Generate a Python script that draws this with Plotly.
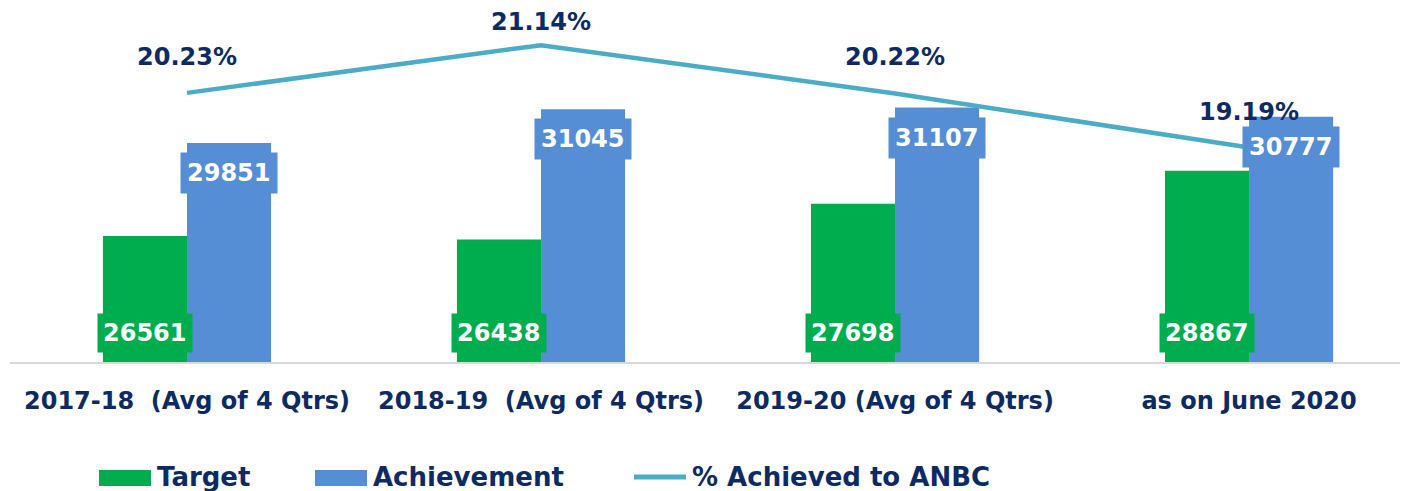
import plotly.graph_objects as go

categories = ["2017-18\u00a0\u00a0(Avg of 4 Qtrs)", "2018-19\u00a0\u00a0(Avg of 4 Qtrs)",
              "2019-20 (Avg of 4 Qtrs)", "as on June 2020"]
target = [26561, 26438, 27698, 28867]
achievement = [29851, 31045, 31107, 30777]
pct_achieved = [20.23, 21.14, 20.22, 19.19]
series_names = ["Target", "Achievement", "% Achieved to ANBC"]

NAVY = "#0E2A63"
GREEN = "#00AD4E"
BLUE = "#558ED5"
TEAL = "#4BACC6"
FONT = "DejaVu Sans"

# plot area geometry (page has an 8px body margin)
L, T, W, H = 2, 2, 1398, 352


def px_x(p):
    return (p - 8 - L) / W


def px_y(p):
    return (8 + T + H - p) / H


x = list(range(len(categories)))

fig = go.Figure()
fig.add_trace(go.Bar(x=x, y=target, name=series_names[0], marker_color=GREEN,
                     marker_line_width=0, showlegend=False))
fig.add_trace(go.Bar(x=x, y=achievement, name=series_names[1], marker_color=BLUE,
                     marker_line_width=0, showlegend=False))
fig.add_trace(go.Scatter(x=x, y=pct_achieved, name=series_names[2], mode="lines",
                         line=dict(color=TEAL, width=4.5), yaxis="y2", showlegend=False))

# value boxes on the bars
for i in x:
    fig.add_annotation(x=i, y=22104, xshift=-42, yshift=29, yanchor="middle",
                       text="<b>%d</b>" % target[i], showarrow=False,
                       font=dict(family=FONT, size=24, color="white"),
                       bgcolor=GREEN, borderpad=5)
    fig.add_annotation(x=i, y=achievement[i], xshift=42, yshift=-30, yanchor="middle",
                       text="<b>%d</b>" % achievement[i], showarrow=False,
                       font=dict(family=FONT, size=24, color="white"),
                       bgcolor=BLUE, borderpad=6)

# percentage labels above the line
pct_shift = [36, 23, 36, 35]
for i in x:
    fig.add_annotation(x=i, y=pct_achieved[i], yref="y2",
                       yshift=pct_shift[i], yanchor="middle",
                       text="<b>%.2f%%</b>" % pct_achieved[i], showarrow=False,
                       font=dict(family=FONT, size=24, color=NAVY))

# legend drawn by hand: wide swatches like the original
leg_y = 477
fig.add_shape(type="rect", xref="paper", yref="paper", x0=px_x(99), x1=px_x(151),
              y0=px_y(486), y1=px_y(470), fillcolor=GREEN, line_width=0)
fig.add_shape(type="rect", xref="paper", yref="paper", x0=px_x(315), x1=px_x(367),
              y0=px_y(486), y1=px_y(470), fillcolor=BLUE, line_width=0)
fig.add_shape(type="line", xref="paper", yref="paper", x0=px_x(634), x1=px_x(686),
              y0=px_y(leg_y), y1=px_y(leg_y), line=dict(color=TEAL, width=5))
for name, left in zip(series_names, [155, 371, 690]):
    fig.add_annotation(xref="paper", yref="paper", x=px_x(left), y=px_y(leg_y),
                       xanchor="left", yanchor="middle", showarrow=False,
                       text="<b>%s</b>" % name,
                       font=dict(family=FONT, size=26, color=NAVY))

fig.update_layout(
    width=1400, height=483,
    margin=dict(l=L, r=0, t=T, b=483 - T - H),
    plot_bgcolor="white", paper_bgcolor="white",
    barmode="group", bargap=0.525, bargroupgap=0,
    font=dict(family=FONT, color=NAVY),
    showlegend=False,
    xaxis=dict(tickmode="array", tickvals=x, ticktext=["<b>%s</b>" % c for c in categories],
               range=[-0.5, 3.449], showline=True, linecolor="#D9D9D9", linewidth=2,
               ticks="", ticklabelstandoff=16,
               tickfont=dict(family=FONT, size=24, color=NAVY)),
    yaxis=dict(range=[22104, 34556], visible=False, showgrid=False),
    yaxis2=dict(range=[15.10, 21.81], overlaying="y", visible=False, showgrid=False),
)

fig.write_html("out.html")
